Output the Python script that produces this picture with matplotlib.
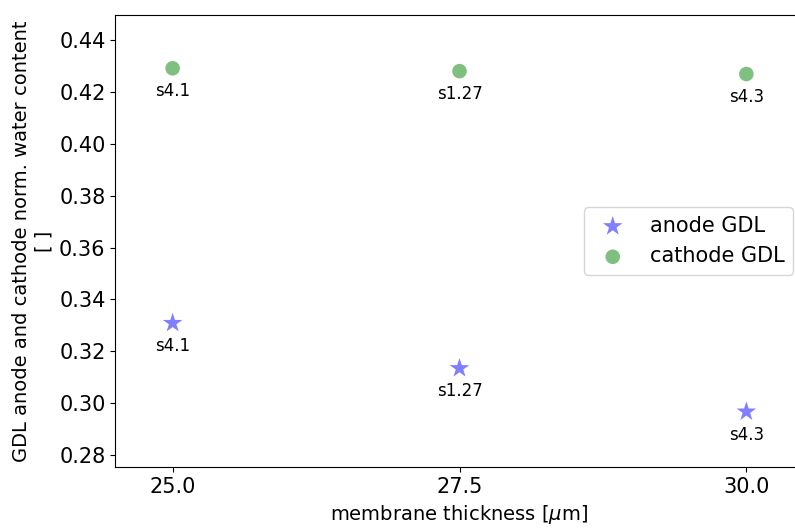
import matplotlib
matplotlib.use("Agg")
import matplotlib.pyplot as plt

thickness = [25.0, 27.5, 30.0]
labels = ["s4.1", "s1.27", "s4.3"]
anode_water = [0.3309, 0.3135, 0.2968]
cathode_water = [0.4290, 0.4279, 0.4268]

fig, ax = plt.subplots(figsize=(7.95, 5.28), dpi=100)
ax.scatter(thickness, anode_water, marker="*", s=220, color="blue", alpha=0.5,
           edgecolors="none", label="anode GDL")
ax.scatter(thickness, cathode_water, marker="o", s=110, color="green", alpha=0.5,
           edgecolors="none", label="cathode GDL")

for x, y, t in zip(thickness, anode_water, labels):
    ax.annotate(t, (x, y), xytext=(0, -10), textcoords="offset points",
                ha="center", va="top", fontsize=12)
for x, y, t in zip(thickness, cathode_water, labels):
    ax.annotate(t, (x, y), xytext=(0, -10), textcoords="offset points",
                ha="center", va="top", fontsize=12)

ax.set_xlim(24.5, 30.5)
ax.set_ylim(0.2754, 0.4496)
ax.set_xticks([25.0, 27.5, 30.0])
ax.set_yticks([0.28, 0.30, 0.32, 0.34, 0.36, 0.38, 0.40, 0.42, 0.44])
ax.tick_params(labelsize=15)
ax.set_xlabel(r"membrane thickness [$\mu$m]", fontsize=14)
ax.set_ylabel("GDL anode and cathode norm. water content\n[ ]", fontsize=14)
ax.legend(fontsize=15, loc="center right")

fig.subplots_adjust(left=0.145, right=1.011, top=0.972, bottom=0.115)
fig.savefig("out.png", dpi=100)
